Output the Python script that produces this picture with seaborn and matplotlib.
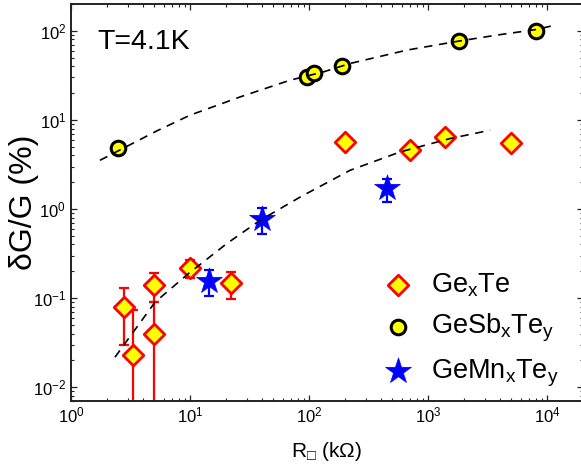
import numpy as np
import pandas as pd
import matplotlib
matplotlib.use("Agg")
import matplotlib.pyplot as plt
import seaborn as sns

# GexTe (diamonds) with error bars
gete_r = [2.8, 3.3, 5.0, 5.0, 10.0, 22.0, 200.0, 700.0, 1380.0, 4950.0]
gete_g = [0.08, 0.023, 0.14, 0.04, 0.22, 0.148, 5.7, 4.6, 6.5, 5.45]
gete_lo = [0.05, 0.0229, 0.05, 0.0399, 0.05, 0.05, 0.0, 0.0, 0.0, 0.0]
gete_hi = [0.05, 0.05, 0.05, 0.05, 0.05, 0.05, 0.0, 0.0, 0.0, 0.0]

# GeSbxTey (circles)
gst_r = [2.5, 96.0, 111.0, 188.0, 1820.0, 8100.0]
gst_g = [4.9, 30.0, 33.5, 40.0, 77.0, 100.0]

# GeMnxTey (stars)
gmt_r = [14.5, 40.5, 450.0]
gmt_g = [0.155, 0.78, 1.7]
gmt_err = [0.05, 0.25, 0.5]

# dashed guide curves
fit1_r = [1.75, 5.25, 10.0, 26.3, 69.2, 132.0, 221.0, 662.0, 1800.0, 3780.0, 8190.0, 11700.0]
fit1_g = [3.52, 7.52, 11.3, 18.1, 27.9, 34.6, 43.0, 60.7, 76.6, 89.5, 103.7, 116.0]
fit2_r = [2.34, 5.08, 9.68, 20.3, 38.7, 84.0, 221.0, 582.0, 1530.0, 3320.0]
fit2_g = [0.0217, 0.090, 0.188, 0.408, 0.746, 1.36, 2.72, 4.37, 6.18, 7.66]

sns.set_theme(style="ticks")
plt.rcParams['font.family'] = ['Liberation Sans', 'DejaVu Sans']
plt.rcParams['mathtext.fontset'] = 'custom'
plt.rcParams['mathtext.rm'] = 'Liberation Sans'
plt.rcParams['mathtext.it'] = 'Liberation Sans:italic'
plt.rcParams['mathtext.default'] = 'regular'
plt.rcParams['text.color'] = 'black'
plt.rcParams['axes.labelcolor'] = 'black'
plt.rcParams['xtick.color'] = 'black'
plt.rcParams['ytick.color'] = 'black'

fig = plt.figure(figsize=(5.81, 4.72), dpi=100)
ax = fig.add_axes([71 / 581, 71 / 472, 512 / 581, 397 / 472])

ax.errorbar(gete_r, gete_g, yerr=[gete_lo, gete_hi], fmt='none', ecolor='red',
            elinewidth=1.6, capsize=3.5, capthick=1.6, zorder=2)
ax.errorbar(gmt_r, gmt_g, yerr=gmt_err, fmt='none', ecolor='blue',
            elinewidth=1.6, capsize=3.5, capthick=1.6, zorder=2)

df_fit1 = pd.DataFrame({'r': fit1_r, 'g': fit1_g})
df_fit2 = pd.DataFrame({'r': fit2_r, 'g': fit2_g})
sns.lineplot(data=df_fit1, x='r', y='g', ax=ax, color='black', lw=1.2,
             linestyle=(0, (5, 4)), zorder=5, sort=False)
sns.lineplot(data=df_fit2, x='r', y='g', ax=ax, color='black', lw=1.2,
             linestyle=(0, (5, 4)), zorder=5, sort=False)

sns.scatterplot(x=gete_r, y=gete_g, ax=ax, marker='D', s=110, color='yellow',
                edgecolor='red', linewidth=2, zorder=3,
                label=r'Ge$_\mathregular{x}$Te')
sns.scatterplot(x=gst_r, y=gst_g, ax=ax, marker='o', s=110, color='yellow',
                edgecolor='black', linewidth=2.2, zorder=3,
                label=r'GeSb$_\mathregular{x}$Te$_\mathregular{y}$')
sns.scatterplot(x=gmt_r, y=gmt_g, ax=ax, marker='*', s=380, color='blue',
                edgecolor='blue', linewidth=0.5, zorder=3,
                label=r'GeMn$_\mathregular{x}$Te$_\mathregular{y}$')

ax.set_xscale('log')
ax.set_yscale('log')
ax.set_xlim(1, 2e4)
ax.set_ylim(0.007, 200)

for s in ax.spines.values():
    s.set_linewidth(1.4)
    s.set_color('#222222')
ax.tick_params(which='both', direction='in', top=True, right=True,
               labelsize=12, color='#222222')
ax.tick_params(which='major', length=4.5, width=0.9)
ax.tick_params(which='minor', length=2.3, width=0.8)

ax.set_xlabel(r'R$_\mathregular{□}$ (k$\Omega$)', fontsize=15)
ax.set_ylabel('δG/G (%)', fontsize=23)
ax.xaxis.set_label_coords(0.5, -0.098)
ax.yaxis.set_label_coords(-0.063, 0.5)

ax.text(0.051, 0.904, 'T=4.1K', transform=ax.transAxes, fontsize=20.5,
        va='center', ha='left')

leg = ax.legend(loc='center left', bbox_to_anchor=(382 / 581, (472 - 330) / 472),
                bbox_transform=fig.transFigure, frameon=False, fontsize=19.5,
                borderpad=0, handlelength=1.2, handletextpad=0.6,
                labelspacing=0.48, borderaxespad=0)

fig.savefig('out.png', dpi=100)
